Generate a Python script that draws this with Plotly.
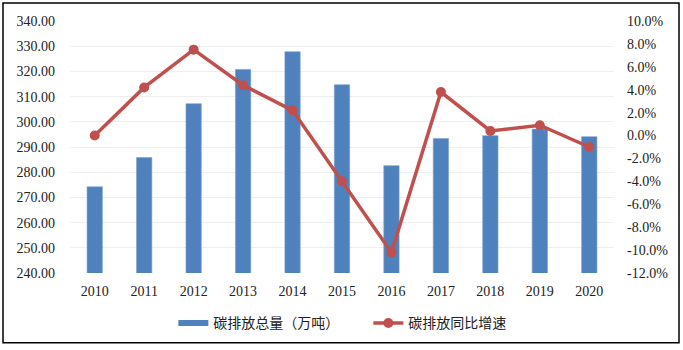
import plotly.graph_objects as go

# 年度碳排放数据
years = ["2010", "2011", "2012", "2013", "2014", "2015", "2016", "2017", "2018", "2019", "2020"]
emissions = [274.2, 285.8, 307.2, 320.8, 327.8, 314.7, 282.6, 293.4, 294.5, 297.1, 294.1]  # 万吨
growth = [0.0, 4.2, 7.5, 4.4, 2.2, -4.0, -10.2, 3.8, 0.4, 0.9, -1.0]  # %

left_ticks = [240 + 10 * i for i in range(11)]
right_ticks = [-12 + 2 * i for i in range(12)]

BLUE = "#4F81BD"
RED = "#C0504D"
SERIF = "Liberation Serif, Times New Roman, serif"
CJK = "Noto Sans CJK SC, sans-serif"

fig = go.Figure()

fig.add_trace(go.Bar(
    x=years, y=emissions, name="碳排放总量（万吨）",
    marker=dict(color=BLUE, line=dict(color="#7BA0D0", width=0.6)),
    showlegend=False, yaxis="y",
))
# legend swatch for the bar series (thin horizontal band)
fig.add_trace(go.Scatter(
    x=[None], y=[None], mode="lines", name="碳排放总量（万吨）",
    line=dict(color=BLUE, width=6), yaxis="y",
))
fig.add_trace(go.Scatter(
    x=years, y=growth, name="碳排放同比增速", mode="lines+markers",
    line=dict(color=RED, width=3.5),
    marker=dict(color=RED, size=10),
    yaxis="y2",
))

fig.update_layout(
    width=683, height=350,
    margin=dict(l=70, r=69, t=21, b=76),
    paper_bgcolor="white", plot_bgcolor="white",
    bargap=0.69,
    font=dict(family=SERIF, size=14, color="#222222"),
    xaxis=dict(
        type="category", range=[-0.5, len(years) - 0.5],
        showgrid=False, ticks="", showline=False,
        automargin=False, ticklabelstandoff=8,
        tickfont=dict(family=SERIF, size=14, color="#222222"),
    ),
    yaxis=dict(
        range=[240, 340], tickvals=left_ticks,
        ticktext=[f"{v:.2f}" for v in left_ticks],
        showgrid=True, gridcolor="#EEEEEE", gridwidth=1,
        zeroline=False, showline=False, ticks="",
        automargin=False, ticklabelstandoff=14,
        tickfont=dict(family=SERIF, size=14, color="#222222"),
    ),
    yaxis2=dict(
        range=[-12, 10], overlaying="y", side="right",
        tickvals=right_ticks, ticktext=[f"{v:.1f}%" for v in right_ticks],
        showgrid=False, zeroline=False, showline=False, ticks="",
        automargin=False, ticklabelstandoff=12,
        tickfont=dict(family=SERIF, size=14, color="#222222"),
    ),
    legend=dict(
        orientation="h", x=0.19, y=-0.195, xanchor="left", yanchor="middle",
        font=dict(family=CJK, size=14, color="#222222"),
        itemwidth=30, tracegroupgap=0,
        entrywidth=150, entrywidthmode="pixels",
        bgcolor="rgba(0,0,0,0)",
    ),
    shapes=[dict(
        type="rect", xref="paper", yref="paper",
        x0=(3 - 70) / 544, x1=(679 - 70) / 544,
        y0=(274 - 344) / 253, y1=(274 - 3) / 253,
        line=dict(color="black", width=1.5), fillcolor="rgba(0,0,0,0)",
        layer="below",
    )],
)

fig.write_html("out.html")
